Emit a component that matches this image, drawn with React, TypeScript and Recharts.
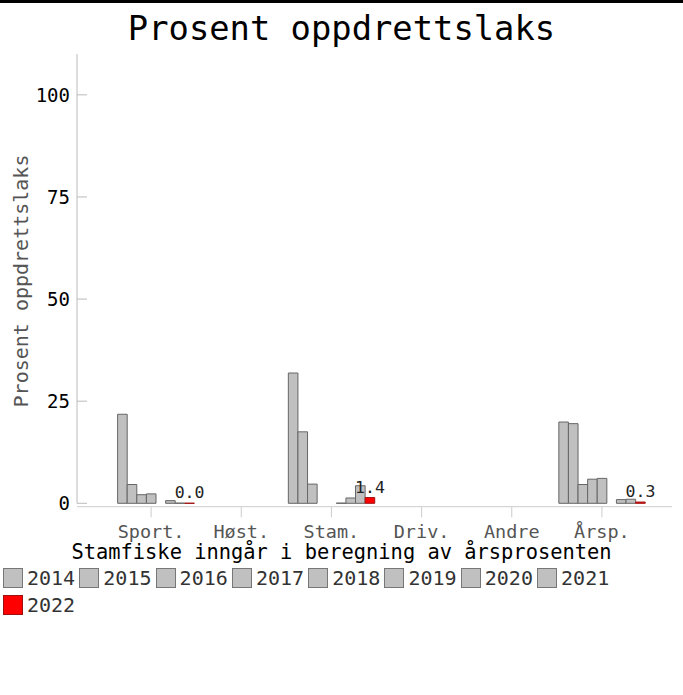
import React from 'react';
import { BarChart, Bar, XAxis, YAxis, LabelList, Legend } from 'recharts';

const categories = ['Sport.', 'Høst.', 'Stam.', 'Driv.', 'Andre', 'Årsp.'];
const years = ['2014', '2015', '2016', '2017', '2018', '2019', '2020', '2021', '2022'];

const v2014 = [null, null, 31.9, null, null, 19.9];
const v2015 = [21.8, null, 17.5, null, null, 19.5];
const v2016 = [4.6, null, 4.7, null, null, 4.6];
const v2017 = [2.1, null, null, null, null, 5.9];
const v2018 = [2.3, null, null, null, null, 6.1];
const v2019 = [null, null, 0.05, null, null, null];
const v2020 = [0.65, null, 1.3, null, null, 0.9];
const v2021 = [0.05, null, 4.3, null, null, 1.0];
const v2022 = [0.02, null, 1.4, null, null, 0.3];

const yTicks = [0, 25, 50, 75, 100];

const seriesValues = [v2014, v2015, v2016, v2017, v2018, v2019, v2020, v2021, v2022];
const seriesFill = years.map((y) => (y === '2022' ? '#ff0000' : '#c0c0c0'));
const seriesStroke = years.map((y) => (y === '2022' ? '#a01010' : '#666666'));

const data = categories.map((c, i) => {
  const row: Record<string, any> = { cat: c };
  years.forEach((y, j) => {
    row[y] = seriesValues[j][i];
  });
  return row;
});

const FONT = '"DejaVu Sans Mono", monospace';

const YTick = (props: any) => {
  const { x, y, payload } = props;
  return (
    <g>
      <line x1={x} x2={x + 10} y1={y} y2={y} stroke="#bbbbbb" />
      <text x={x - 7} y={y} dy={7} textAnchor="end" fontSize={19} fill="#000" fontFamily={FONT}>
        {payload.value}
      </text>
    </g>
  );
};

const XTick = (props: any) => {
  const { x, y, payload } = props;
  return (
    <g>
      <line x1={x} x2={x} y1={y + 3.5} y2={y + 14} stroke="#cccccc" />
      <text x={x} y={y + 35} textAnchor="middle" fontSize={18.5} fill="#555" fontFamily={FONT}>
        {payload.value}
      </text>
    </g>
  );
};

const YLabel = () => (
  <text
    transform="translate(27.5,281) rotate(-90)"
    textAnchor="middle"
    fontSize={20}
    fill="#555"
    fontFamily={FONT}
  >
    Prosent oppdrettslaks
  </text>
);

const LegendContent = () => (
  <div style={{ display: 'flex', flexWrap: 'wrap', paddingLeft: 3, width: 683, boxSizing: 'border-box' }}>
    {years.map((y, i) => (
      <div key={y} style={{ width: 76.3, height: 27, display: 'flex', alignItems: 'center' }}>
        <div
          style={{
            width: 20,
            height: 20,
            boxSizing: 'border-box',
            border: `1px solid ${y === '2022' ? '#a01010' : '#777'}`,
            background: seriesFill[i],
          }}
        />
        <span style={{ marginLeft: 4, fontSize: 20, fontFamily: FONT, color: '#333', lineHeight: '20px' }}>{y}</span>
      </div>
    ))}
  </div>
);

export default function App() {
  return (
    <div style={{ position: 'absolute', top: 0, left: 0, width: 683, height: 695, background: '#fff', overflow: 'hidden' }}>
      <div style={{ position: 'absolute', top: 0, left: 0, width: 683, height: 3, background: '#000' }} />
      <div
        style={{
          position: 'absolute',
          top: 12,
          left: 0,
          width: 683,
          textAlign: 'center',
          fontSize: 33.8,
          lineHeight: '33px',
          fontFamily: FONT,
          color: '#000',
        }}
      >
        Prosent oppdrettslaks
      </div>
      <div style={{ position: 'absolute', top: 0, left: 0 }}>
        <BarChart
          width={683}
          height={695}
          data={data}
          margin={{ top: 54, right: 11, left: 0, bottom: 151.7 }}
          barSize={9.6}
          barGap={0}
        >
          <XAxis
            dataKey="cat"
            height={40}
            padding={{ left: 29, right: 25 }}
            tickLine={false}
            tickSize={0}
            tickMargin={0}
            axisLine={{ stroke: '#cccccc', transform: 'translate(0,3.4)' } as any}
            tick={<XTick />}
            interval={0}
          />
          <YAxis
            width={77}
            domain={[0, 110]}
            ticks={yTicks}
            tickLine={false}
            tickSize={0}
            tickMargin={0}
            axisLine={{ stroke: '#bbbbbb' }}
            tick={<YTick />}
            label={{ content: <YLabel /> } as any}
          />
          <Legend
            layout="horizontal"
            verticalAlign="middle"
            align="center"
            content={<LegendContent />}
            wrapperStyle={{ left: 0, top: 564.5, width: 683 }}
          />
          {years.map((y, i) => (
            <Bar
              key={y}
              dataKey={y}
              name={y}
              fill={seriesFill[i]}
              stroke={seriesStroke[i]}
              strokeWidth={1}
              isAnimationActive={false}
            >
              {y === '2022' ? (
                <LabelList
                  dataKey={y}
                  position="top"
                  offset={5}
                  formatter={(v: any) => (v === null || v === undefined ? '' : Number(v).toFixed(1))}
                  fontSize={16.5}
                  fill="#222"
                  fontFamily={FONT}
                />
              ) : null}
            </Bar>
          ))}
        </BarChart>
      </div>
      <div
        style={{
          position: 'absolute',
          top: 542,
          left: 0,
          width: 683,
          textAlign: 'center',
          fontSize: 20.4,
          lineHeight: '20px',
          fontFamily: FONT,
          color: '#000',
        }}
      >
        Stamfiske inngår i beregning av årsprosenten
      </div>
    </div>
  );
}
